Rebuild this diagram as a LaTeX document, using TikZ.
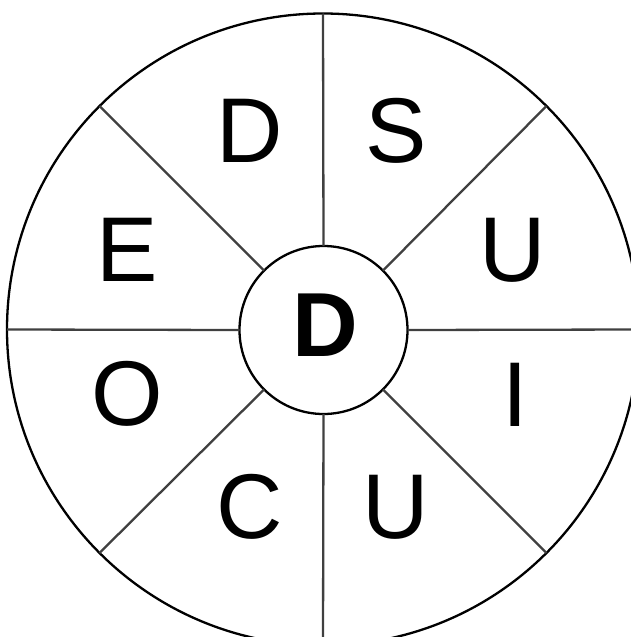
\documentclass[tikz,border=0pt]{standalone}
\usepackage{fontspec}
\setmainfont{Liberation Sans}
\begin{document}
\begin{tikzpicture}[x=1pt,y=-1pt,
  ring/.style={circle, draw=black, line width=2.3pt, inner sep=0pt, outer sep=0pt},
  spoke/.style={draw=black!75, line width=2.3pt},
  letter/.style={inner sep=0pt, font=\fontsize{92}{100}\selectfont}]
\useasboundingbox (0,0) rectangle (631,637);
\node[ring, minimum size=632pt] (rim) at (323,329.5) {};
\node[ring, minimum size=168pt] (hub) at (323.5,330) {};
\node[inner sep=0pt, font=\fontsize{91}{100}\selectfont\bfseries] (mid) at (325,325) {D};
\foreach \a in {0,45,...,315}
  \draw[spoke] (hub.\a) -- (rim.\a);
\node[letter] (l1) at (250,131) {D};
\node[letter] (l2) at (396,131) {S};
\node[letter] (l3) at (513,250) {U};
\node[letter] (l4) at (515,395) {I};
\node[letter] (l5) at (396,507) {U};
\node[letter] (l6) at (250,507) {C};
\node[letter] (l7) at (127,394) {O};
\node[letter] (l8) at (127,250) {E};
\end{tikzpicture}
\end{document}
